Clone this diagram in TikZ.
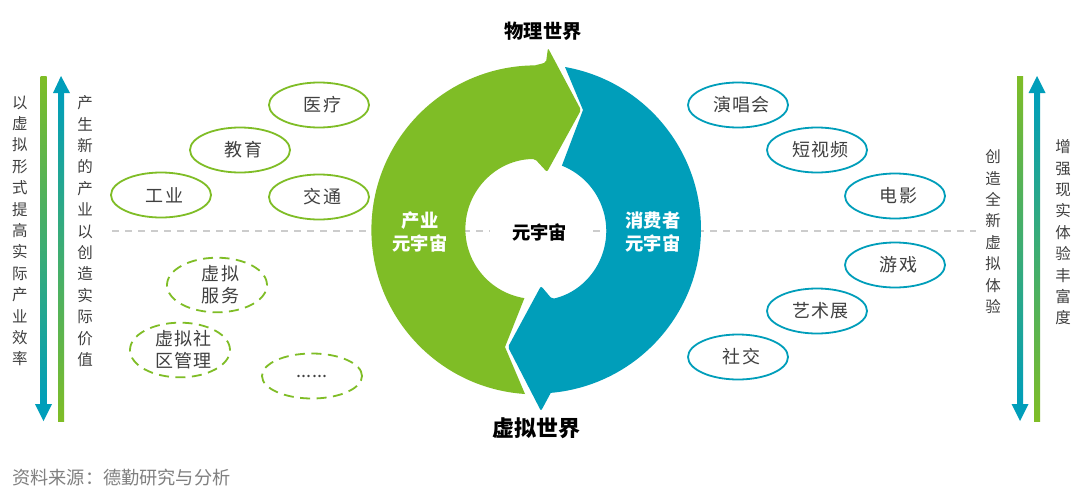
\documentclass[tikz,border=0pt]{standalone}
\usepackage{fontspec}
\setmainfont{Noto Sans CJK SC}
\usetikzlibrary{shapes.geometric}
\definecolor{cgreen}{HTML}{7FBD26}
\definecolor{cteal}{HTML}{009EBA}
\definecolor{cmid}{HTML}{12B482}
\definecolor{ctext}{HTML}{404040}
\tikzset{
  x=1pt,y=1pt,
  bub/.style={ellipse,draw,line width=1.8pt,minimum width=100pt,minimum height=45pt,inner sep=0pt,align=center,text=ctext,font=\fontsize{18}{22}\selectfont\addfontfeature{LetterSpace=8}},
  greenbub/.style={bub,draw=cgreen},
  tealbub/.style={bub,draw=cteal},
  dashbub/.style={bub,draw=cgreen,dash pattern=on 10pt off 6.5pt},
  vtext/.style={align=center,text=ctext,font=\fontsize{15.5}{21.4}\selectfont,inner sep=0pt,anchor=north},
  ringtext/.style={align=center,text=white,font=\bfseries\fontsize{18.3}{23.5}\selectfont,inner sep=0pt},
  title/.style={text=black,inner sep=0pt},
}
\newcommand{\ks}{\kern7pt}
\begin{document}
\begin{tikzpicture}
\useasboundingbox (0,0) rectangle (1080,-490);
\fill[white] (0,0) rectangle (1080,-490);

% dashed axis
\coordinate (axL) at (112,-231);
\coordinate (axR) at (976,-231);
\draw[draw=black!20,line width=1.3pt,dash pattern=on 7pt off 6pt] (axL) -- (axR);

% green arc arrow
\fill[cgreen]
  (525,-394) arc[start angle=266.2,end angle=90.3,radius=164.5]
  [rounded corners=2pt] -- (546,-62.5) -- (548,-48) -- (581,-110) -- (547,-172) -- (535,-159) [sharp corners]
  arc[start angle=90.3,end angle=261,radius=70]
  -- (505,-347) -- cycle;

% teal arc arrow
\fill[cteal]
  (565,-67) arc[start angle=80,end angle=-85,radius=164.5]
  [rounded corners=2pt] -- (541,-411) -- (508,-347) -- (541,-286) -- (552,-299) [sharp corners]
  arc[start angle=-77,end angle=68.5,radius=70]
  -- (583,-110) -- cycle;

% titles
\node[title,font=\bfseries\fontsize{19.3}{22}\selectfont] (phys) at (543,-31) {物理世界};
\node[title,font=\bfseries\fontsize{22}{24}\selectfont] (virt) at (536,-428) {虚拟世界};
\node[title,fill=white,inner xsep=22pt,inner ysep=2pt,font=\bfseries\fontsize{18.3}{22}\selectfont] (meta) at (539.5,-232) {元宇宙};
\node[ringtext] (ind) at (420,-232) {产业\\元宇宙};
\node[ringtext] (con) at (653,-232) {消费者\\元宇宙};

% left bubbles
\node[greenbub] (yl) at (319,-105) {\ks 医疗};
\node[greenbub] (jy) at (240,-150) {\ks 教育};
\node[greenbub] (gy) at (161,-195) {\ks 工业};
\node[greenbub] (jt) at (319,-197) {\ks 交通};
\node[dashbub,minimum height=50pt] (fw) at (217,-285) {\ks 虚拟\\\ks 服务};
\node[dashbub,minimum height=52pt] (sq) at (180,-350) {\ks 虚拟社\\\ks 区管理};
\node[dashbub] (dots) at (312,-376) {\addfontfeature{LetterSpace=0}......};

% right bubbles
\node[tealbub] (ych) at (738,-105) {\ks 演唱会};
\node[tealbub] (dsp) at (817,-150) {\ks 短视频};
\node[tealbub] (dy) at (895,-196) {\ks 电影};
\node[tealbub] (yx) at (895,-265) {\ks 游戏};
\node[tealbub] (ysz) at (817,-311) {\ks 艺术展};
\node[tealbub] (sj) at (738,-357) {\ks 社交};

% left arrows
\shade[top color=cgreen,middle color=cmid,bottom color=cteal] (40.5,-76) rectangle (46.5,-404);
\fill[cteal] (35,-404) -- (52,-404) -- (43.5,-421) -- cycle;
\shade[top color=cteal,middle color=cmid,bottom color=cgreen] (58,-93) rectangle (64,-421);
\fill[cteal] (53,-93) -- (70,-93) -- (61,-76) -- cycle;

% right arrows
\shade[top color=cgreen,middle color=cmid,bottom color=cteal] (1017,-76) rectangle (1023,-404);
\fill[cteal] (1011.5,-404) -- (1028.5,-404) -- (1020,-421) -- cycle;
\shade[top color=cteal,middle color=cmid,bottom color=cgreen] (1034,-93) rectangle (1040,-421);
\fill[cteal] (1028.5,-93) -- (1045.5,-93) -- (1037,-76) -- cycle;

% vertical texts
\node[vtext] (lt1) at (20,-95.5) {以\\虚\\拟\\形\\式\\提\\高\\实\\际\\产\\业\\效\\率};
\node[vtext] (lt2) at (85,-95.5) {产\\生\\新\\的\\产\\业\\以\\创\\造\\实\\际\\价\\值};
\node[vtext] (rt1) at (993,-149.5) {创\\造\\全\\新\\虚\\拟\\体\\验};
\node[vtext] (rt2) at (1063,-139.5) {增\\强\\现\\实\\体\\验\\丰\\富\\度};

% source
\node[anchor=west,inner sep=0pt,text=black!50,font=\fontsize{18.2}{22}\selectfont] (src) at (12,-478) {资料来源：德勤研究与分析};
\end{tikzpicture}
\end{document}
